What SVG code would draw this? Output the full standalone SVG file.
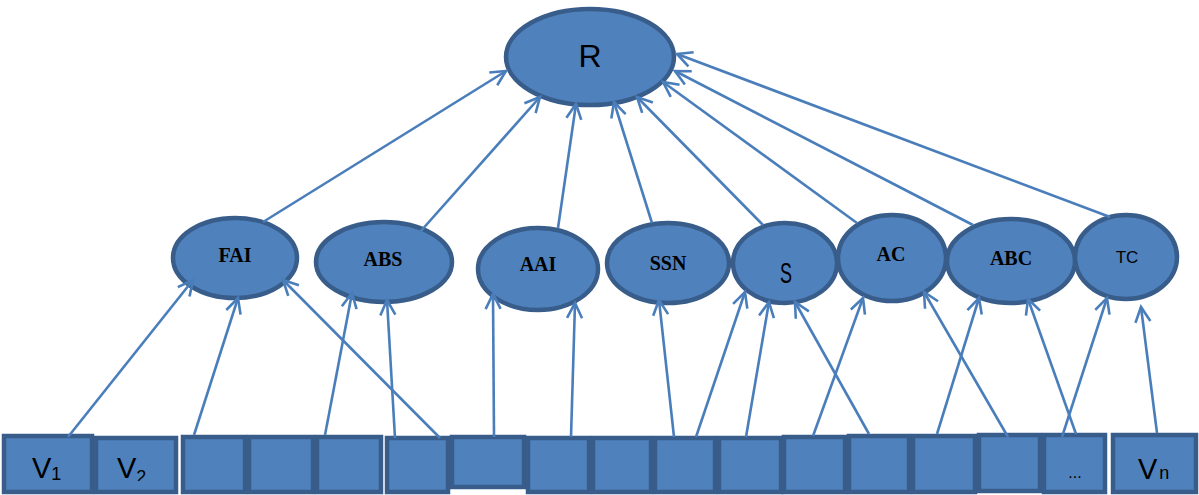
<svg xmlns="http://www.w3.org/2000/svg" width="1199" height="495" viewBox="0 0 1199 495">
<style>
.nd{fill:#4F81BD;stroke:#385D8A;stroke-width:4.5}
.bx{fill:#4F81BD;stroke:#385D8A;stroke-width:4.5}
.tb{font-family:"Liberation Serif",serif;font-weight:bold;font-size:20px;fill:#000;text-anchor:middle}
.ts{font-family:"Liberation Sans",sans-serif;fill:#000}
.mid{text-anchor:middle}
.cn line{stroke:#4A7EBB;stroke-width:2.6;fill:none;marker-end:url(#arr)}
</style>
<defs>
<marker id="arr" markerUnits="userSpaceOnUse" markerWidth="24" markerHeight="24" viewBox="-20 -12 24 24" refX="0" refY="0" orient="auto">
<path d="M-15,-7.5 L0,0 L-15,7.5" fill="none" stroke="#4A7EBB" stroke-width="2.6"/>
</marker>
<clipPath id="vclip"><rect x="0" y="430" width="1199" height="51"/></clipPath>
</defs>
<rect width="1199" height="495" fill="#fff"/>

<g id="R"><ellipse class="nd" cx="590" cy="57" rx="84" ry="48"/><text class="ts mid" x="590" y="67" font-size="32">R</text></g>

<g id="FAI"><ellipse class="nd" cx="235" cy="258" rx="62" ry="40"/><text class="tb" x="235" y="262">FAI</text></g>
<g id="ABS"><ellipse class="nd" cx="384" cy="262" rx="68" ry="40"/><text class="tb" x="383" y="266">ABS</text></g>
<g id="AAI"><ellipse class="nd" cx="538" cy="269" rx="60" ry="41"/><text class="tb" x="538" y="271">AAI</text></g>
<g id="SSN"><ellipse class="nd" cx="668" cy="263" rx="61" ry="40"/><text class="tb" x="668" y="270">SSN</text></g>
<g id="S"><ellipse class="nd" cx="785" cy="263" rx="52" ry="40"/><text class="ts mid" font-size="29" transform="translate(786,283) scale(0.62,1)" x="0" y="0">S</text></g>
<g id="AC"><ellipse class="nd" cx="892" cy="258" rx="54" ry="43"/><text class="tb" x="891" y="261">AC</text></g>
<g id="ABC"><ellipse class="nd" cx="1011" cy="261" rx="64" ry="42"/><text class="tb" x="1011" y="265">ABC</text></g>
<g id="TC"><ellipse class="nd" cx="1126" cy="257" rx="51" ry="42"/><text class="ts mid" x="1127" y="263" font-size="17">TC</text></g>

<g id="V1"><rect class="bx" x="4" y="436" width="88" height="56"/><g clip-path="url(#vclip)"><text class="ts" x="32" y="478" font-size="29">V<tspan font-size="18" dy="2">1</tspan></text></g></g>
<g id="V2"><rect class="bx" x="96" y="438" width="80" height="54"/><g clip-path="url(#vclip)"><text class="ts" x="117" y="478" font-size="29">V<tspan font-size="18" dy="5">2</tspan></text></g></g>
<g id="B3"><rect class="bx" x="183" y="437" width="62" height="55"/></g>
<g id="B4"><rect class="bx" x="249" y="437" width="64" height="55"/></g>
<g id="B5"><rect class="bx" x="317" y="437" width="64" height="55"/></g>
<g id="B6"><rect class="bx" x="387" y="438" width="61" height="54"/></g>
<g id="B7"><rect class="bx" x="452" y="437" width="72" height="50"/></g>
<g id="B8"><rect class="bx" x="528" y="438" width="61" height="54"/></g>
<g id="B9"><rect class="bx" x="593" y="438" width="58" height="54"/></g>
<g id="B10"><rect class="bx" x="655" y="438" width="60" height="54"/></g>
<g id="B11"><rect class="bx" x="719" y="438" width="62" height="54"/></g>
<g id="B12"><rect class="bx" x="784" y="437" width="61" height="55"/></g>
<g id="B13"><rect class="bx" x="849" y="436" width="60" height="56"/></g>
<g id="B14"><rect class="bx" x="913" y="436" width="62" height="56"/></g>
<g id="B15"><rect class="bx" x="979" y="435" width="61" height="56"/></g>
<g id="B16"><rect class="bx" x="1044" y="435" width="61" height="57"/><text class="ts mid" x="1075" y="478" font-size="16">...</text></g>
<g id="Vn"><rect class="bx" x="1113" y="435" width="83" height="57"/><g clip-path="url(#vclip)"><text class="ts" x="1138" y="479" font-size="29">V<tspan font-size="18" dx="2">n</tspan></text></g></g>

<g id="connectors" class="cn">
<line x1="263" y1="222" x2="506" y2="71"/>
<line x1="420" y1="232" x2="540" y2="97"/>
<line x1="558" y1="228" x2="576" y2="104"/>
<line x1="652" y1="223" x2="614" y2="102"/>
<line x1="763" y1="225" x2="637" y2="97"/>
<line x1="857" y1="223" x2="663" y2="82"/>
<line x1="973" y1="225" x2="675" y2="71"/>
<line x1="1110" y1="217" x2="677" y2="54"/>

<line x1="68" y1="437" x2="193" y2="280"/>
<line x1="194" y1="435" x2="238" y2="298"/>
<line x1="440" y1="438" x2="283" y2="280"/>
<line x1="325" y1="435" x2="352" y2="293"/>
<line x1="395" y1="438" x2="387" y2="300"/>
<line x1="494" y1="437" x2="493" y2="294"/>
<line x1="571" y1="437" x2="575" y2="303"/>
<line x1="674" y1="437" x2="659" y2="300"/>
<line x1="696" y1="437" x2="745" y2="292"/>
<line x1="746" y1="437" x2="769" y2="302"/>
<line x1="869" y1="434" x2="795" y2="302"/>
<line x1="813" y1="436" x2="863" y2="298"/>
<line x1="937" y1="434" x2="979" y2="298"/>
<line x1="1008" y1="437" x2="924" y2="292"/>
<line x1="1076" y1="434" x2="1028" y2="299"/>
<line x1="1062" y1="437" x2="1107" y2="298"/>
<line x1="1157" y1="433" x2="1141" y2="307"/>
</g>
</svg>
